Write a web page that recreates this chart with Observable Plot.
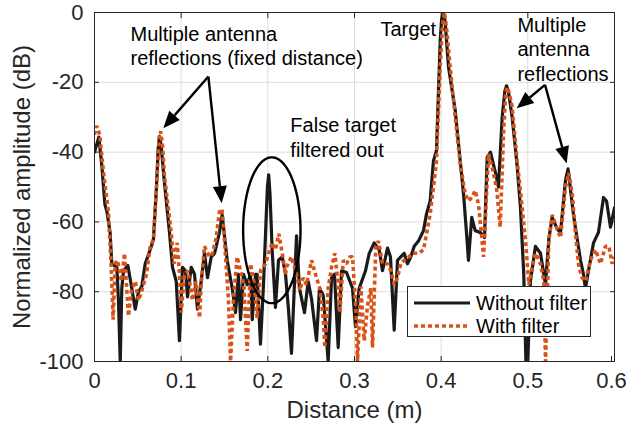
<!DOCTYPE html>
<html><head><meta charset="utf-8">
<script src="https://cdn.jsdelivr.net/npm/d3@7"></script>
<script src="https://cdn.jsdelivr.net/npm/@observablehq/plot@0.6"></script>
<style>
html,body{margin:0;padding:0;background:#fff;}
#chart{width:626px;height:425px;}
</style>
</head><body><div id="chart"></div>
<script>
// Data: [distance (m), amplitude (dB)]
const withoutFilter = [
 [0,-40],[0.005,-35.7],[0.0085,-44],[0.012,-55],[0.0143,-57],[0.018,-63],[0.020,-72],[0.0258,-73],[0.0277,-83],[0.0297,-100],
 [0.0315,-79],[0.0335,-74],[0.0385,-72.5],[0.043,-79],[0.047,-85],[0.0508,-80],[0.0546,-78.5],[0.0585,-72],[0.0643,-68],[0.068,-65],
 [0.0715,-50],[0.0735,-39],[0.075,-35.5],[0.0768,-38],[0.0808,-49],[0.0865,-63],[0.09,-73],[0.0943,-77],[0.098,-94],[0.1015,-73],[0.105,-74],[0.1073,-81.5],
 [0.1116,-73],[0.1154,-75],[0.1188,-85],[0.1231,-77],[0.1269,-69],[0.1304,-76],[0.1347,-70],[0.1385,-69],[0.1442,-63],[0.1473,-58],
 [0.1531,-71],[0.1589,-79],[0.1627,-86],[0.1661,-75],[0.1685,-88],[0.1719,-75],[0.1762,-78],[0.18,-75],[0.182,-88],[0.1858,-75],
 [0.1877,-75],[0.1915,-95],[0.195,-78],[0.1995,-50],[0.201,-46.5],[0.2025,-52],[0.205,-68],[0.2088,-84.5],[0.2123,-71],[0.2166,-70],[0.2204,-75],[0.2238,-85],
 [0.2273,-97.7],[0.2331,-64],[0.2365,-79],[0.2423,-86],[0.2466,-77],[0.2504,-82],[0.2562,-94],[0.2596,-79],[0.2639,-81],[0.2696,-100],
 [0.2735,-76],[0.2769,-75],[0.2812,-96],[0.285,-74],[0.2908,-74.5],[0.2977,-79],[0.3011,-90],[0.3054,-79],[0.3127,-74],[0.317,-69],
 [0.3227,-66],[0.3285,-68],[0.3323,-74],[0.3381,-67.5],[0.3415,-70],[0.3458,-91],[0.3496,-71],[0.3534,-70],[0.3573,-69],[0.3611,-72],
 [0.365,-70],[0.3689,-67],[0.3738,-65.5],[0.3796,-62.5],[0.3831,-57.7],[0.3873,-54],[0.3911,-42.5],[0.3946,-39.5],[0.3989,-8],[0.4005,-2],[0.4025,0],[0.4045,-2.5],
 [0.4085,-15.7],[0.4162,-28],[0.422,-42.5],[0.4258,-52],[0.4292,-63],[0.4315,-71],[0.4353,-58.7],[0.4393,-62.5],[0.445,-63],[0.45,-64.5],
 [0.4531,-41.5],[0.4569,-40],[0.4627,-46],[0.4661,-50],[0.4704,-30],[0.4735,-22.5],[0.4754,-21],[0.4775,-22.5],[0.4819,-30],[0.4877,-44],[0.4915,-56],[0.4953,-75],
 [0.4978,-100],[0.5,-100],[0.503,-77],[0.5088,-67],[0.5146,-69],[0.5204,-78],[0.5242,-65],[0.5281,-58.7],[0.5339,-62],[0.5377,-63],
 [0.5435,-48],[0.5464,-44.8],[0.5527,-58],[0.557,-65],[0.5608,-71],[0.5642,-75],[0.5665,-79],[0.57,-74],[0.5758,-66],[0.5815,-63],
 [0.5873,-53],[0.5908,-54],[0.5954,-61.5],[0.6,-56]
];
const withFilter = [
 [0,-35],[0.0025,-32.5],[0.006,-35],[0.010,-45],[0.016,-57],[0.019,-71],[0.0215,-88],[0.0238,-72],[0.0265,-71],[0.0312,-77],
 [0.0346,-69],[0.0369,-78],[0.0392,-87],[0.0427,-79.6],[0.047,-77],[0.0508,-82.5],[0.0542,-80],[0.06,-75],[0.0643,-67],[0.068,-65],
 [0.072,-48],[0.0745,-36],[0.0762,-34],[0.0785,-38],[0.0808,-47],[0.0885,-63],[0.0917,-72],[0.0954,-66],[0.0981,-75],[0.1,-86],[0.1038,-75],[0.1077,-74],
 [0.1131,-82.5],[0.117,-77],[0.1212,-87.5],[0.1231,-78],[0.1269,-67],[0.1327,-70],[0.1362,-69],[0.1404,-64.5],[0.1442,-57],[0.147,-56.3],
 [0.149,-61.5],[0.1546,-82.5],[0.157,-100],[0.1604,-82],[0.1646,-70],[0.1685,-74],[0.1723,-78],[0.1762,-97],[0.18,-72],[0.1838,-77],
 [0.1877,-87.5],[0.1915,-74],[0.1973,-72],[0.2008,-69],[0.205,-66],[0.2088,-68],[0.2127,-63.4],[0.2166,-69],[0.2204,-75],[0.2215,-73],
 [0.2273,-70],[0.2331,-75],[0.2369,-79.6],[0.2408,-76],[0.2446,-78],[0.2504,-71],[0.2562,-76],[0.26,-79],[0.2639,-87.5],[0.2658,-96],
 [0.2696,-79],[0.2735,-73],[0.2773,-69],[0.2812,-78],[0.2831,-86],[0.287,-71],[0.2908,-72],[0.2946,-70],[0.2977,-70],[0.3015,-84.5],
 [0.3035,-100],[0.3073,-78.5],[0.3112,-94],[0.315,-84],[0.3188,-79],[0.3208,-96],[0.3246,-67],[0.3277,-65.5],[0.3323,-72],[0.3381,-72],
 [0.3419,-74],[0.3458,-78],[0.3496,-76],[0.3534,-72],[0.3573,-71],[0.3631,-70],[0.3669,-69],[0.3738,-69],[0.3796,-68],[0.3831,-63.5],
 [0.3873,-57.7],[0.3911,-50],[0.3946,-42.5],[0.3988,-15.7],[0.4015,-4],[0.4038,0],[0.406,-4],[0.4104,-15.7],[0.4162,-30],[0.422,-43.3],[0.4277,-52],[0.4315,-54],
 [0.4354,-53],[0.4393,-51],[0.4431,-55],[0.4465,-63.5],[0.4489,-70],[0.4546,-40.5],[0.4604,-46],[0.4642,-51],[0.4681,-61.5],[0.4719,-35],
 [0.4742,-24],[0.4758,-21.4],[0.4785,-23],[0.4819,-27],[0.4877,-42.5],[0.4935,-56],[0.4973,-65.5],[0.5012,-78],[0.505,-73],[0.5089,-69],[0.5146,-72],[0.5185,-77],
 [0.5204,-100],[0.5242,-65.5],[0.5281,-58],[0.5339,-62],[0.5377,-64.5],[0.5435,-50],[0.5473,-46],[0.5512,-52],[0.555,-63.5],[0.5589,-73],
 [0.5627,-76],[0.5665,-77],[0.5723,-71],[0.5781,-68],[0.5838,-72],[0.5896,-67],[0.5935,-67],[0.5973,-72],[0.6,-70]
];
const xTicks = [0, 0.1, 0.2, 0.3, 0.4, 0.5, 0.6];
const yTicks = [-100, -80, -60, -40, -20, 0];
const seriesNames = ["Without filter", "With filter"];

// Annotations (data coordinates)
const noteText = ["Multiple antenna\nreflections (fixed distance)", "Target", "Multiple\nantenna\nreflections", "False target\nfiltered out"];
const noteX = [0.0415, 0.330, 0.488, 0.226];
const noteY = [-9.3, -4.6, -10.3, -35.5];
// arrows: [x1, y1, x2, y2]
const arrows = [
  [0.132, -18.5, 0.080, -33.3],
  [0.132, -18.5, 0.1473, -54.8],
  [0.5204, -20.9, 0.4877, -27.6],
  [0.5204, -20.9, 0.5454, -43.4]
];
const ellipse = {cx: 0.2046, cy: -62.4, rx: 0.0331, ry: 20.9};

const FONT = "'Liberation Sans', Arial, Helvetica, sans-serif";
const ORANGE = "#D95319";
const AX = "#262626";
const DASH = "4,3";

const ellipsePts = d3.range(0, 361, 4).map(a => ({
  x: ellipse.cx + ellipse.rx * Math.cos(a * Math.PI / 180),
  y: ellipse.cy + ellipse.ry * Math.sin(a * Math.PI / 180)
}));

const fmt = d => String(d);
const lastX = xTicks[xTicks.length - 1];

const plot = Plot.plot({
  width: 626, height: 425,
  marginLeft: 94, marginRight: 12, marginTop: 12, marginBottom: 64,
  style: {fontFamily: FONT, fontSize: "20px", color: AX, background: "#fff", overflow: "visible"},
  x: {domain: [0, 0.6], ticks: xTicks},
  y: {domain: [-100, 0], ticks: yTicks},
  marks: [
    Plot.gridX(xTicks, {stroke: "#dcdcdc", strokeOpacity: 1, strokeWidth: 1}),
    Plot.gridY(yTicks, {stroke: "#dcdcdc", strokeOpacity: 1, strokeWidth: 1}),
    Plot.line(withoutFilter, {x: d => d[0], y: d => d[1], stroke: "#1a1a1a", strokeWidth: 3.2, clip: true, strokeLinejoin: "round"}),
    Plot.line(withFilter, {x: d => d[0], y: d => d[1], stroke: ORANGE, strokeWidth: 3.6, strokeDasharray: DASH, strokeLinecap: "butt", clip: true, strokeLinejoin: "miter"}),
    Plot.line(ellipsePts, {x: "x", y: "y", stroke: "#000", strokeWidth: 2.4}),
    Plot.text(noteText, {x: (d, i) => noteX[i], y: (d, i) => noteY[i], text: d => d, textAnchor: "start", lineHeight: 1.24, fontSize: 20, fill: "#000"}),
    Plot.frame({stroke: AX, strokeWidth: 1}),
    Plot.axisX(xTicks.filter(t => t !== lastX), {tickSize: -5, tickPadding: 16, tickFormat: fmt, stroke: AX, fill: AX, fontSize: 22, label: null}),
    Plot.axisX([lastX], {tickSize: -5, tickPadding: 16, tickFormat: fmt, stroke: AX, fill: AX, fontSize: 22, label: null, dx: -3}),
    Plot.axisX(xTicks, {anchor: "top", tickSize: -5, tickFormat: () => "", stroke: AX, label: null}),
    Plot.axisY(yTicks, {tickSize: -5, tickPadding: 16, tickFormat: fmt, stroke: AX, fill: AX, fontSize: 22, label: null}),
    Plot.axisY(yTicks, {anchor: "right", tickSize: -5, tickFormat: () => "", stroke: AX, label: null}),
    Plot.text(["Distance (m)"], {frameAnchor: "bottom", lineAnchor: "middle", textAnchor: "middle", dy: 49, fontSize: 24, fill: AX}),
    Plot.text(["Normalized amplitude (dB)"], {frameAnchor: "left", textAnchor: "middle", lineAnchor: "middle", dx: -72, rotate: -90, fontSize: 24, fill: AX})
  ]
});
document.getElementById("chart").appendChild(plot);

// Arrows with filled heads, legend — placed via the plot's scales
const sx = plot.scale("x"), sy = plot.scale("y");
const X = sx.apply ? v => sx.apply(v) : d3.scaleLinear(sx.domain, sx.range);
const Y = sy.apply ? v => sy.apply(v) : d3.scaleLinear(sy.domain, sy.range);
const svg = d3.select(plot.tagName.toLowerCase() === "svg" ? plot : plot.querySelector("svg"));
const g = svg.append("g");
arrows.forEach(([x1, y1, x2, y2]) => {
  const px1 = X(x1), py1 = Y(y1), px2 = X(x2), py2 = Y(y2);
  const dx = px2 - px1, dy = py2 - py1, L = Math.hypot(dx, dy);
  const ux = dx / L, uy = dy / L, hl = 17, hw = 7;
  const bx = px2 - ux * hl, by = py2 - uy * hl;
  g.append("line").attr("x1", px1).attr("y1", py1).attr("x2", bx).attr("y2", by)
    .attr("stroke", "#000").attr("stroke-width", 2.4);
  g.append("path").attr("d", `M${px2},${py2}L${bx - uy * hw},${by + ux * hw}L${bx + uy * hw},${by - ux * hw}Z`)
    .attr("fill", "#000");
});
// Legend box
const lg = svg.append("g").attr("font-family", FONT).attr("font-size", 20).attr("text-anchor", "start");
lg.append("rect").attr("x", 407.5).attr("y", 286.5).attr("width", 183).attr("height", 50)
  .attr("fill", "#fff").attr("stroke", AX).attr("stroke-width", 1);
const legendStyles = [
  {stroke: "#1a1a1a", w: 3.2, dash: null},
  {stroke: ORANGE, w: 3.6, dash: DASH}
];
seriesNames.forEach((name, i) => {
  const yy = 303 + i * 23;
  const ln = lg.append("line").attr("x1", 414).attr("x2", 470).attr("y1", yy).attr("y2", yy)
    .attr("stroke", legendStyles[i].stroke).attr("stroke-width", legendStyles[i].w);
  if (legendStyles[i].dash) ln.attr("stroke-dasharray", legendStyles[i].dash);
  lg.append("text").attr("x", 476).attr("y", yy).attr("dy", "0.35em").attr("fill", "#000").attr("text-anchor", "start").text(name);
});
</script>
</body></html>
